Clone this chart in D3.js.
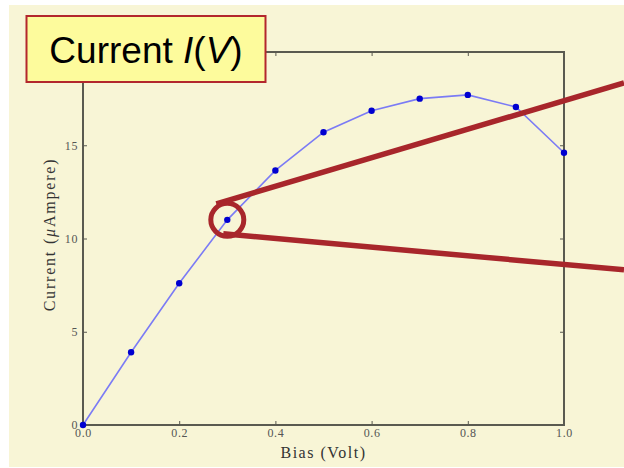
<!DOCTYPE html>
<html><head><meta charset="utf-8">
<script src="https://cdn.jsdelivr.net/npm/d3@7/dist/d3.min.js"></script>
<style>body{margin:0;background:#fff}svg{display:block}</style>
</head><body>
<svg id="c" width="624" height="468"></svg>
<script>
const bias = [0.0, 0.1, 0.2, 0.3, 0.4, 0.5, 0.6, 0.7, 0.8, 0.9, 1.0];
const current = [0.0, 3.9, 7.6, 11.0, 13.65, 15.7, 16.85, 17.5, 17.7, 17.05, 14.6];
const xTicks = [0.0, 0.2, 0.4, 0.6, 0.8, 1.0];
const yTicks = [0, 5, 10, 15];
const highlightIndex = 3;

const svg = d3.select("#c");
const W = 624, H = 468;
const m = {l: 83, r: 60, t: 52, b: 43};
const x = d3.scaleLinear().domain([0, 1]).range([m.l, W - m.r]);
const y = d3.scaleLinear().domain([0, 20]).range([H - m.b, m.t]);

svg.append("rect").attr("x", 9).attr("y", 5).attr("width", W - 9).attr("height", H - 6).attr("fill", "#f8f5d6");

const axisCol = "#5a5a50";
const serif = "'Liberation Serif','DejaVu Serif',serif";

// frame
svg.append("rect").attr("x", x(0)).attr("y", y(20)).attr("width", x(1) - x(0)).attr("height", y(0) - y(20))
  .attr("fill", "none").attr("stroke", axisCol).attr("stroke-width", 2);

function styleAxis(g, showLabels) {
  g.select(".domain").remove();
  g.selectAll(".tick line").attr("stroke", axisCol).attr("stroke-width", 1);
  g.selectAll(".tick text").attr("fill", "#555").style("font-family", serif).style("font-size", "12px")
    .style("letter-spacing", "0.6px");
  if (!showLabels) g.selectAll(".tick text").remove();
}
svg.append("g").attr("transform", `translate(0,${y(0)})`)
  .call(d3.axisBottom(x).tickValues(xTicks).tickFormat(d3.format(".1f")).tickSizeInner(-4).tickPadding(3))
  .call(g => styleAxis(g, true));
svg.append("g").attr("transform", `translate(0,${y(20)})`)
  .call(d3.axisTop(x).tickValues(xTicks).tickSizeInner(-4))
  .call(g => styleAxis(g, false));
svg.append("g").attr("transform", `translate(${x(0)},0)`)
  .call(d3.axisLeft(y).tickValues(yTicks).tickFormat(d3.format("d")).tickSizeInner(-4).tickPadding(5))
  .call(g => styleAxis(g, true));
svg.append("g").attr("transform", `translate(${x(1)},0)`)
  .call(d3.axisRight(y).tickValues(yTicks).tickSizeInner(-4))
  .call(g => styleAxis(g, false));

// axis labels
svg.append("text").attr("x", (x(0) + x(1)) / 2).attr("y", H - 10).attr("text-anchor", "middle")
  .style("font-family", serif).style("font-size", "16px").style("letter-spacing", "1.5px")
  .attr("fill", "#333").text("Bias (Volt)");
const yl = svg.append("text").attr("transform", `translate(55,${(y(0) + y(20)) / 2 - 4}) rotate(-90)`)
  .attr("text-anchor", "middle").style("font-family", serif).style("font-size", "16px")
  .style("letter-spacing", "1.8px").attr("fill", "#333");
yl.append("tspan").text("Current (");
yl.append("tspan").style("font-style", "italic").text("\u03bc");
yl.append("tspan").text("Ampere)");

// data
const pts = bias.map((b, i) => [b, current[i]]);
svg.append("path").datum(pts)
  .attr("d", d3.line().x(d => x(d[0])).y(d => y(d[1])))
  .attr("fill", "none").attr("stroke", "#7b7bf5").attr("stroke-width", 1.6);
svg.selectAll("circle.pt").data(pts).join("circle").attr("class", "pt")
  .attr("cx", d => x(d[0])).attr("cy", d => y(d[1])).attr("r", 3.2).attr("fill", "#0000d0");

// magnifier annotation
const red = "#a8262b";
const cx = x(bias[highlightIndex]), cy = y(current[highlightIndex]);
const R = 16.5;
svg.append("line").attr("x1", cx - 11).attr("y1", cy - 16).attr("x2", W).attr("y2", cy - 137)
  .attr("stroke", red).attr("stroke-width", 5.5);
svg.append("line").attr("x1", cx - 4).attr("y1", cy + 14).attr("x2", W).attr("y2", cy + 50)
  .attr("stroke", red).attr("stroke-width", 5.5);
svg.append("circle").attr("cx", cx).attr("cy", cy).attr("r", R)
  .attr("fill", "none").attr("stroke", red).attr("stroke-width", 5);

// title box
svg.append("rect").attr("x", 26.5).attr("y", 16).attr("width", 239).attr("height", 66)
  .attr("fill", "#fdfb9c").attr("stroke", "#b3272d").attr("stroke-width", 2);
const t = svg.append("text").attr("x", 146).attr("y", 63).attr("text-anchor", "middle")
  .style("font-family", "'Liberation Sans','DejaVu Sans',sans-serif").style("font-size", "37px").attr("fill", "#000");
t.append("tspan").text("Current ");
t.append("tspan").style("font-style", "italic").text("I");
t.append("tspan").text("(");
t.append("tspan").style("font-style", "italic").text("V");
t.append("tspan").text(")");
</script>
</body></html>
